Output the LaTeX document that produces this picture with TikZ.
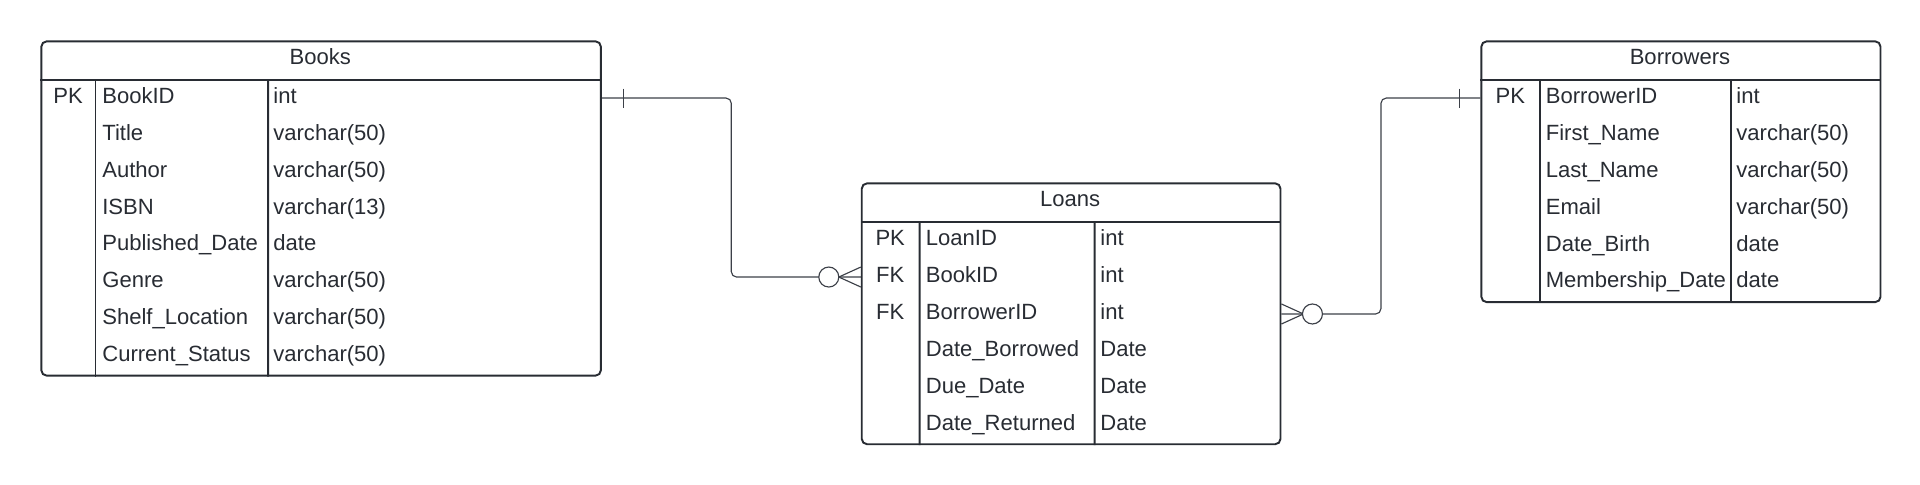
\documentclass[tikz,border=0pt]{standalone}
\usepackage{fontspec}
\setmainfont{Liberation Sans}
\usetikzlibrary{calc}

\definecolor{ink}{HTML}{282C33}
\definecolor{wiregray}{HTML}{3C4048}

\tikzset{
    entity/.style = {draw = ink, line width = 1.1pt, rounded corners = 3pt, anchor = north west, inner sep = 0pt},
    rule/.style = {draw = ink, line width = 1.1pt},
    field/.style = {text = ink, inner sep = 0pt, text height = 9pt, text depth = 3pt, font = \fontsize{12.55}{14}\selectfont},
    wire/.style = {draw = wiregray, line width = 0.65pt},
}

\begin{document}
\begin{tikzpicture}[x = 0.02cm, y = -0.02cm]
    \useasboundingbox (0,0) rectangle (1920,484);

    % Books
    \node [entity, minimum width = 11.192cm, minimum height = 6.686cm] (books) at (40.4,40.4) {};
    \node [field] (books-title) at (320.2,59) {Books};
    \draw [rule] ($(books.north west)+(0,39.2)$) -- ($(books.north east)+(0,39.2)$);
    \draw [rule] ($(books.north west)+(55.1,39.2)$) -- (books.south west -| 95.5,0);
    \draw [rule] ($(books.north west)+(227.8,39.2)$) -- (books.south west -| 268.2,0);
    \foreach \k/\n/\t [count = \i] in {PK/BookID/int, /Title/varchar(50), /Author/varchar(50),
        /ISBN/varchar(13), /Published\_Date/date, /Genre/varchar(50),
        /Shelf\_Location/varchar(50), /Current\_Status/varchar(50)}{
        \node [field] (books-k\i) at (68,{79.6+(\i-0.5)*36.9}) {\k};
        \node [field, anchor = west] (books-n\i) at (102,{79.6+(\i-0.5)*36.9}) {\n};
        \node [field, anchor = west] (books-t\i) at (273,{79.6+(\i-0.5)*36.9}) {\t};
    }

    % Loans
    \node [entity, minimum width = 8.376cm, minimum height = 5.218cm] (loans) at (860.8,182.4) {};
    \node [field] (loans-title) at (1070.2,201) {Loans};
    \draw [rule] ($(loans.north west)+(0,39.2)$) -- ($(loans.north east)+(0,39.2)$);
    \draw [rule] ($(loans.north west)+(58.8,39.2)$) -- (loans.south west -| 919.6,0);
    \draw [rule] ($(loans.north west)+(233.9,39.2)$) -- (loans.south west -| 1094.7,0);
    \foreach \k/\n/\t [count = \i] in {PK/LoanID/int, FK/BookID/int, FK/BorrowerID/int,
        /Date\_Borrowed/Date, /Due\_Date/Date, /Date\_Returned/Date}{
        \node [field] (loans-k\i) at (890.2,{221.6+(\i-0.5)*36.95}) {\k};
        \node [field, anchor = west] (loans-n\i) at (925.5,{221.6+(\i-0.5)*36.95}) {\n};
        \node [field, anchor = west] (loans-t\i) at (1100,{221.6+(\i-0.5)*36.95}) {\t};
    }

    % Borrowers
    \node [entity, minimum width = 7.984cm, minimum height = 5.216cm] (borrowers) at (1480.4,40.4) {};
    \node [field] (borrowers-title) at (1680,59) {Borrowers};
    \draw [rule] ($(borrowers.north west)+(0,39.2)$) -- ($(borrowers.north east)+(0,39.2)$);
    \draw [rule] ($(borrowers.north west)+(60,39.2)$) -- (borrowers.south west -| 1540.4,0);
    \draw [rule] ($(borrowers.north west)+(251,39.2)$) -- (borrowers.south west -| 1731.4,0);
    \foreach \k/\n/\t [count = \i] in {PK/BorrowerID/int, /First\_Name/varchar(50), /Last\_Name/varchar(50),
        /Email/varchar(50), /Date\_Birth/date, /Membership\_Date/date}{
        \node [field] (borrowers-k\i) at (1510.4,{79.6+(\i-0.5)*36.93}) {\k};
        \node [field, anchor = west] (borrowers-n\i) at (1545.5,{79.6+(\i-0.5)*36.93}) {\n};
        \node [field, anchor = west] (borrowers-t\i) at (1736,{79.6+(\i-0.5)*36.93}) {\t};
    }

    % relations
    \draw [wire, rounded corners = 3pt] (books.east |- books-n1) -| ($(books.east)!0.5!(loans.west)$) |- (loans.west |- loans-n2);
    \draw [wire] ($(books.east |- books-n1)+(21.5,-9.5)$) -- ++(0,19);
    \draw [wire] ($(loans.west |- loans-n2)+(-22,0)$) -- ($(loans.west |- loans-n2)+(0,-10)$)
                 ($(loans.west |- loans-n2)+(-22,0)$) -- ($(loans.west |- loans-n2)+(0,10)$);
    \draw [wire, fill = white] ($(loans.west |- loans-n2)+(-32,0)$) circle [radius = 0.2cm];

    \draw [wire, rounded corners = 3pt] (loans.east |- loans-n3) -| ($(loans.east)!0.5!(borrowers.west)$) |- (borrowers.west |- borrowers-n1);
    \draw [wire] ($(borrowers.west |- borrowers-n1)+(-20.7,-9.5)$) -- ++(0,19);
    \draw [wire] ($(loans.east |- loans-n3)+(22,0)$) -- ($(loans.east |- loans-n3)+(0,-10)$)
                 ($(loans.east |- loans-n3)+(22,0)$) -- ($(loans.east |- loans-n3)+(0,10)$);
    \draw [wire, fill = white] ($(loans.east |- loans-n3)+(31,0)$) circle [radius = 0.2cm];
\end{tikzpicture}
\end{document}
